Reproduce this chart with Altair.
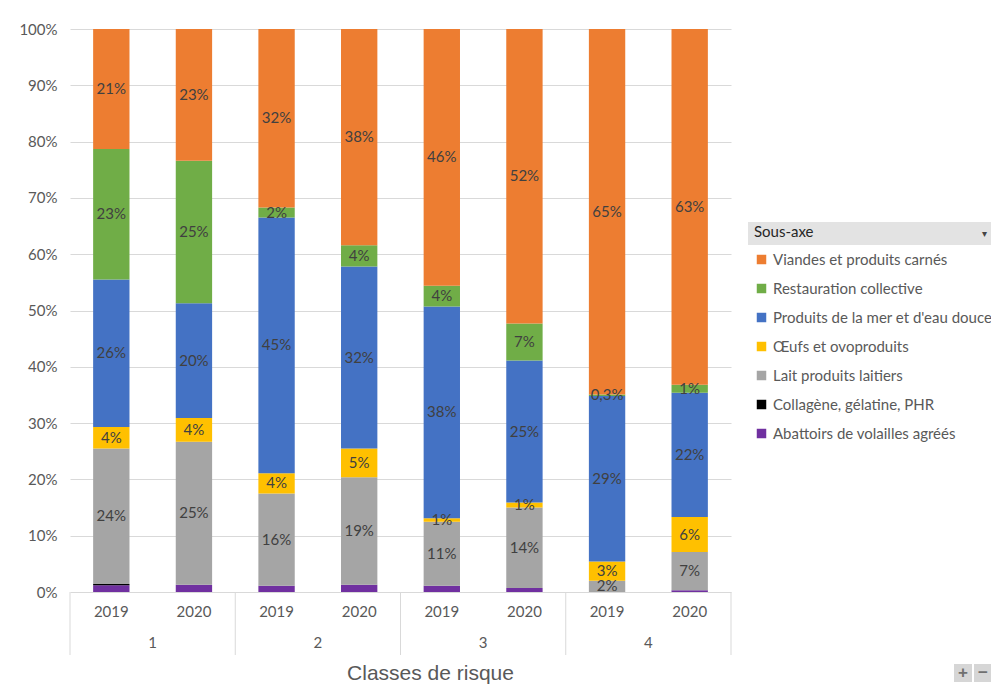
import altair as alt
import pandas as pd

# ---- data ----
classes = ["1", "1", "2", "2", "3", "3", "4", "4"]
annees = ["2019", "2020", "2019", "2020", "2019", "2020", "2019", "2020"]
classes_uniques = ["1", "2", "3", "4"]

# stacking order, bottom -> top
categories = [
    "Abattoirs de volailles agréés",
    "Collagène, gélatine, PHR",
    "Lait produits laitiers",
    "Œufs et ovoproduits",
    "Produits de la mer et d'eau douce",
    "Restauration collective",
    "Viandes et produits carnés",
]
couleurs = ["#7030A0", "#000000", "#A5A5A5", "#FFC000", "#4472C4", "#70AD47", "#ED7D31"]

abattoirs = [1.2, 1.3, 1.1, 1.3, 1.1, 0.7, 0.0, 0.3]
collagene = [0.2, 0.0, 0.0, 0.0, 0.0, 0.0, 0.0, 0.0]
lait = [24.1, 25.4, 16.4, 19.1, 11.4, 14.3, 2.0, 6.8]
oeufs = [3.8, 4.2, 3.6, 5.1, 0.6, 0.9, 3.4, 6.2]
mer = [26.2, 20.4, 45.4, 32.3, 37.6, 25.2, 29.4, 22.1]
restauration = [23.2, 25.3, 1.8, 3.8, 3.7, 6.6, 0.3, 1.4]
viandes = [21.3, 23.4, 31.7, 38.4, 45.6, 52.3, 64.9, 63.2]
series = [abattoirs, collagene, lait, oeufs, mer, restauration, viandes]


def fmt(v):
    r = round(v)
    if r >= 1:
        return f"{r}%"
    return f"{v:.1f}%".replace(".", ",")


rows = []
for ci, (nom, vals) in enumerate(zip(categories, series)):
    for i, v in enumerate(vals):
        rows.append(dict(classe=classes[i], annee=annees[i], cat=nom, ordre=ci,
                         value=v, label=fmt(v), show=bool(ci >= 2 and v > 0)))
df = pd.DataFrame(rows)
df_annees = pd.DataFrame({"classe": classes, "annee": annees})
df_classes = pd.DataFrame({"classe": classes_uniques})

# ---- layout ----
W, H = 661, 563
FONT = "Lato"
FS = 15
GREY_TXT = "#595959"
GRID = "#d9d9d9"

xscale = alt.Scale(paddingInner=0, paddingOuter=0)
xoff = alt.Scale(paddingInner=0.56, paddingOuter=0.28)
legend_order = list(reversed(categories))
legend_colors = list(reversed(couleurs))

base = alt.Chart(df).transform_stack(
    stack="value", groupby=["classe", "annee"], as_=["y0", "y1"],
    offset="normalize", sort=[alt.SortField("ordre", order="ascending")]
).transform_calculate(mid="(datum.y0 + datum.y1) / 2")

yaxis = alt.Axis(values=[i / 10 for i in range(11)], format=".0%", grid=True,
                 gridColor=GRID, domain=False, ticks=False, labelColor=GREY_TXT,
                 labelFontSize=FS, labelFont=FONT, labelPadding=13, title=None)
xaxis = alt.Axis(title="Classes de risque", labels=False, ticks=False, domain=False,
                 grid=False, titleFontSize=21, titleFont="Liberation Sans",
                 titleColor=GREY_TXT, titleFontWeight="normal", titleX=360,
                 titleY=81, titleBaseline="middle", titleAlign="center")

bars = base.mark_bar().encode(
    x=alt.X("classe:N", scale=xscale, axis=xaxis),
    xOffset=alt.XOffset("annee:N", scale=xoff),
    y=alt.Y("y0:Q", scale=alt.Scale(domain=[0, 1], nice=False), axis=yaxis),
    y2="y1:Q",
    color=alt.Color("cat:N", scale=alt.Scale(domain=legend_order, range=legend_colors),
                    legend=alt.Legend(title="Sous-axe", orient="none", legendX=684,
                                      legendY=196, titleFontSize=FS, titleFont=FONT,
                                      titleColor="#262626", titleFontWeight="normal",
                                      titlePadding=12, labelFontSize=FS, labelFont=FONT,
                                      labelColor=GREY_TXT, symbolType="square",
                                      symbolSize=90, symbolStrokeWidth=0,
                                      rowPadding=13, labelOffset=4, labelLimit=300)),
    order=alt.Order("ordre:Q"),
)

labels = base.transform_filter("datum.show").mark_text(
    fontSize=FS, font=FONT, color="#404040"
).encode(
    x=alt.X("classe:N", scale=xscale),
    xOffset=alt.XOffset("annee:N", scale=xoff),
    y=alt.Y("mid:Q"),
    text="label:N",
)

year_labels = alt.Chart(df_annees).mark_text(
    fontSize=FS, font=FONT, color=GREY_TXT
).encode(
    x=alt.X("classe:N", scale=xscale),
    xOffset=alt.XOffset("annee:N", scale=xoff),
    y=alt.value(H + 20),
    text="annee:N",
)

class_labels = alt.Chart(df_classes).mark_text(
    fontSize=FS, font=FONT, color=GREY_TXT
).encode(
    x=alt.X("classe:N", scale=xscale),
    y=alt.value(H + 51),
    text="classe:N",
)

sep_left = alt.Chart(df_classes).mark_rule(color=GRID, strokeWidth=1).encode(
    x=alt.X("classe:N", scale=xscale, bandPosition=0),
    y=alt.value(H), y2=alt.value(H + 63),
)
sep_right = alt.Chart(df_classes).transform_filter("datum.classe == '4'").mark_rule(
    color=GRID, strokeWidth=1
).encode(
    x=alt.X("classe:N", scale=xscale, bandPosition=1),
    y=alt.value(H), y2=alt.value(H + 63),
)

# legend header ("Sous-axe" field button)
hdr = pd.DataFrame({"t": ["▾"]})
header_box = alt.Chart(hdr).mark_rect(color="#e3e3e3").encode(
    x=alt.value(678), x2=alt.value(926), y=alt.value(193), y2=alt.value(216)
)
header_arrow = alt.Chart(hdr).mark_text(fontSize=10, color="#444444").encode(
    x=alt.value(914), y=alt.value(205), text="t:N"
)

# +/- buttons
btn = pd.DataFrame({"s": ["+", "−"], "px": [893, 913]})
btn_box = alt.Chart(btn).transform_calculate(x0="datum.px - 9", x1="datum.px + 9").mark_rect(
    color="#d6d6d6").encode(
    x=alt.X("x0:Q", scale=None), x2="x1:Q",
    y=alt.value(H + 72), y2=alt.value(H + 90),
)
btn_txt = alt.Chart(btn).mark_text(fontSize=17, fontWeight="bold", color="#707070").encode(
    x=alt.X("px:Q", scale=None), y=alt.value(H + 81), text="s:N"
)

chart = alt.layer(
    header_box, bars, labels, year_labels, class_labels, sep_left, sep_right,
    header_arrow, btn_box, btn_txt
).properties(
    width=W, height=H,
    autosize=alt.AutoSizeParams(type="none"),
    padding={"left": 62, "top": 21, "right": 260, "bottom": 93},
    background="white",
).configure_view(stroke=None)

chart.save("out.html", embed_options={"renderer": "svg", "actions": False})
